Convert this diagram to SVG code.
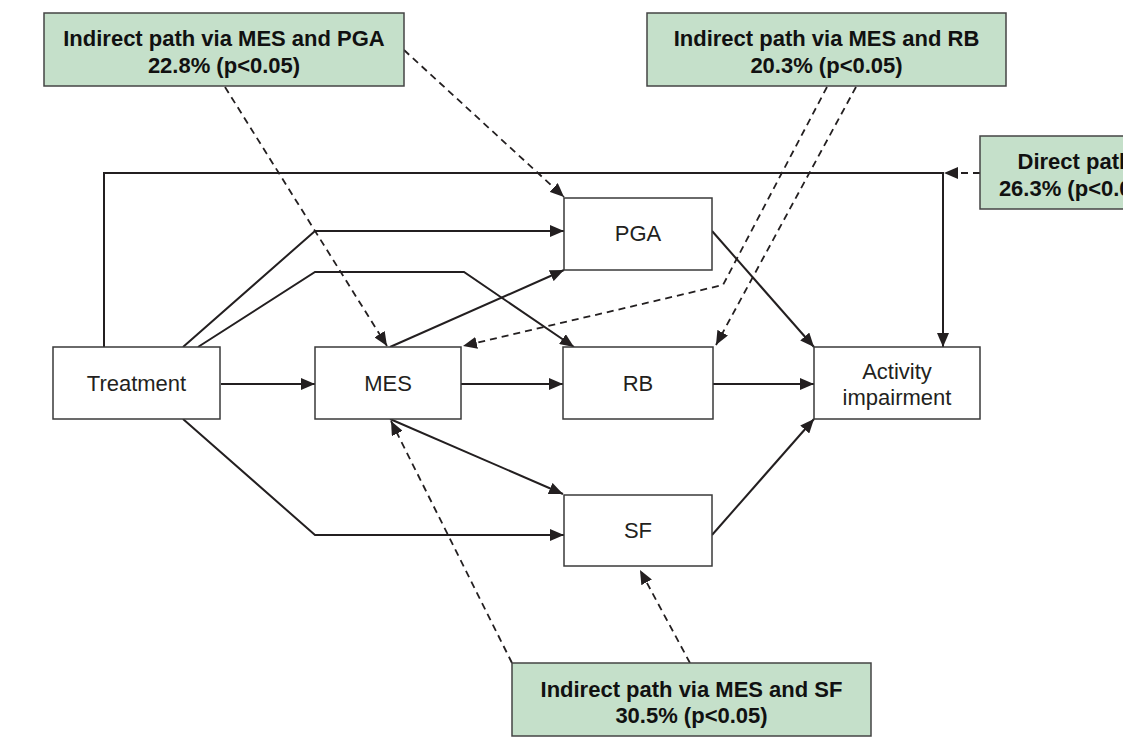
<svg xmlns="http://www.w3.org/2000/svg" width="1123" height="738" viewBox="0 0 1123 738">
<style>
.node rect{fill:#ffffff;stroke:#3a3a3a;stroke-width:1.5}
.node text{font-family:"Liberation Sans",Arial,sans-serif;font-size:22px;fill:#231f20;text-anchor:middle}
.lab rect{fill:#c5e0ca;stroke:#444;stroke-width:1.5}
.lab text{font-family:"Liberation Sans",Arial,sans-serif;font-size:22px;font-weight:bold;fill:#111;text-anchor:middle}
.c{fill:none;stroke:#231f20;stroke-width:2;marker-end:url(#ah)}
.d{fill:none;stroke:#231f20;stroke-width:1.8;stroke-dasharray:7 5;marker-end:url(#ah)}
</style>
<defs>
<marker id="ah" markerUnits="userSpaceOnUse" markerWidth="14" markerHeight="12" viewBox="0 0 14 12" refX="14" refY="6" orient="auto">
<path d="M0,0 L14,6 L0,12 z" fill="#231f20"/>
</marker>
</defs>
<rect width="1123" height="738" fill="#ffffff"/>
<g id="connectors">
<path class="c" d="M104,347 V173 H943 V347"/>
<path class="d" d="M980,173 H944"/>
<path class="c" d="M183,347 L315,231 H564"/>
<path class="c" d="M198,347 L315,272 H464 L574,347"/>
<path class="c" d="M221,384 H315"/>
<path class="c" d="M461,384 H563"/>
<path class="c" d="M713,384 H814"/>
<path class="c" d="M183,419 L315,535 H564"/>
<path class="c" d="M390,347 L564,270"/>
<path class="c" d="M390,419 L563,494"/>
<path class="c" d="M712,231 L814,347"/>
<path class="c" d="M712,535 L814,419"/>
<path class="d" d="M225,87 L387,346"/>
<path class="d" d="M404,50 L564,197"/>
<path class="d" d="M827,87 L723,285 L463,346"/>
<path class="d" d="M856,87 L716,345"/>
<path class="d" d="M512,663 L391,421"/>
<path class="d" d="M690,663 L640,570"/>
</g>
<g id="treatment" class="node"><rect x="53" y="347" width="167" height="72"/><text x="136.5" y="391">Treatment</text></g>
<g id="mes" class="node"><rect x="315" y="347" width="146" height="72"/><text x="388" y="391">MES</text></g>
<g id="pga" class="node"><rect x="564" y="198" width="148" height="72"/><text x="638" y="241">PGA</text></g>
<g id="rb" class="node"><rect x="563" y="347" width="150" height="72"/><text x="638" y="391">RB</text></g>
<g id="sf" class="node"><rect x="564" y="495" width="148" height="71"/><text x="638" y="538">SF</text></g>
<g id="activity" class="node"><rect x="814" y="347" width="166" height="72"/><text x="897" y="379">Activity</text><text x="897" y="405">impairment</text></g>
<g id="label-pga" class="lab"><rect x="44" y="13" width="360" height="73"/><text x="224" y="46">Indirect path via MES and PGA</text><text x="224" y="73">22.8% (p&lt;0.05)</text></g>
<g id="label-rb" class="lab"><rect x="647" y="13" width="359" height="73"/><text x="826.5" y="46">Indirect path via MES and RB</text><text x="826.5" y="73">20.3% (p&lt;0.05)</text></g>
<g id="label-direct" class="lab"><rect x="980" y="136" width="190" height="73"/><text x="1075" y="169">Direct path</text><text x="1075" y="196">26.3% (p&lt;0.05)</text></g>
<g id="label-sf" class="lab"><rect x="512" y="663" width="359" height="73"/><text x="691.5" y="697">Indirect path via MES and SF</text><text x="691.5" y="723">30.5% (p&lt;0.05)</text></g>
</svg>
